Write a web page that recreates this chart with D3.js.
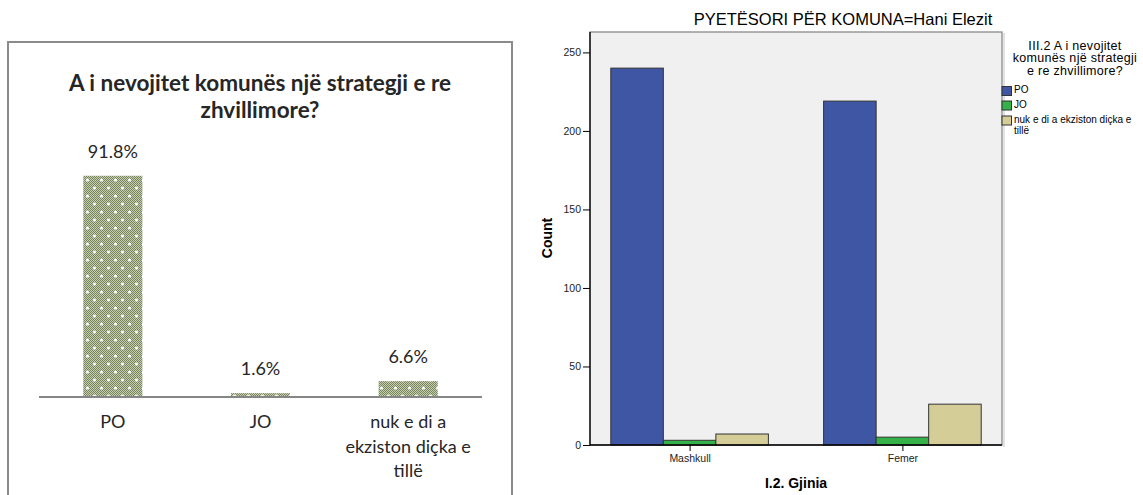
<!DOCTYPE html>
<html>
<head>
<meta charset="utf-8">
<title>A i nevojitet komunës një strategji e re zhvillimore?</title>
<script src="https://cdn.jsdelivr.net/npm/d3@7/dist/d3.min.js"></script>
<style>
body { margin: 0; background: #fff; }
svg { display: block; }
.calib { font-family: Lato, "Open Sans", sans-serif; fill: #262626; }
.spss { font-family: "Liberation Sans", Arial, sans-serif; fill: #000; }
</style>
</head>
<body>
<script>
  // left chart data (percent)
  var pctCategories = [["PO"], ["JO"], ["nuk e di a", "ekziston diçka e", "tillë"]];
  var pctValues = [91.8, 1.6, 6.6];

  // right chart data (counts by gender)
  var genders = ["Mashkull", "Femer"];
  var answers = ["PO", "JO", "nuk e di a ekziston diçka e tillë"];
  var countPO = [240, 219];
  var countJO = [3, 5];
  var countNuk = [7, 26];
  var countTicks = [0, 50, 100, 150, 200, 250];

  var W = 1143, H = 495;
  var svg = d3.select("body").append("svg").attr("width", W).attr("height", H);

  // ---------- patterns for left bars ----------
  var defs = svg.append("defs");
  var dith = defs.append("pattern").attr("id", "dith")
    .attr("patternUnits", "userSpaceOnUse").attr("width", 2).attr("height", 2);
  dith.append("rect").attr("width", 2).attr("height", 2).attr("fill", "#c6cdb3");
  dith.append("rect").attr("width", 1).attr("height", 1).attr("fill", "#76865a");
  dith.append("rect").attr("x", 1).attr("y", 1).attr("width", 1).attr("height", 1).attr("fill", "#76865a");

  var dots = defs.append("pattern").attr("id", "dots")
    .attr("patternUnits", "userSpaceOnUse").attr("width", 14).attr("height", 16);
  dots.append("rect").attr("width", 14).attr("height", 16).attr("fill", "url(#dith)");
  [[3.5, 4], [10.5, 12]].forEach(function(p) {
    dots.append("circle").attr("cx", p[0]).attr("cy", p[1]).attr("r", 1.5).attr("fill", "#fff");
  });

  // ---------- LEFT CHART ----------
  var left = svg.append("g");
  left.append("path")
    .attr("d", "M8," + (H + 5) + "V42H512V" + (H + 5))
    .attr("fill", "none").attr("stroke", "#8b8b8b").attr("stroke-width", 2);

  left.append("text").attr("class", "calib")
    .attr("x", 260).attr("text-anchor", "middle")
    .style("font-size", "22.5px").style("font-weight", "bold")
    .selectAll("tspan")
    .data(["A i nevojitet komunës një strategji e re", "zhvillimore?"])
    .enter().append("tspan")
    .attr("x", 260).attr("y", function(d, i) { return 83 + i * 27; })
    .attr("dy", "0.35em")
    .text(function(d) { return d; });

  var xL = d3.scaleBand()
    .domain(d3.range(pctValues.length))
    .range([39, 482])
    .paddingInner(0.6).paddingOuter(0.3);
  var yL = d3.scaleLinear().domain([0, 100]).range([397, 156]);

  left.selectAll(".pbar").data(pctValues).enter().append("rect")
    .attr("class", "pbar")
    .attr("x", function(d, i) { return xL(i); })
    .attr("y", function(d) { return yL(d); })
    .attr("width", xL.bandwidth())
    .attr("height", function(d) { return yL(0) - yL(d); })
    .attr("fill", "url(#dots)");

  left.append("line")
    .attr("x1", 39).attr("x2", 482).attr("y1", yL(0)).attr("y2", yL(0))
    .attr("stroke", "#868686").attr("stroke-width", 2);

  left.selectAll(".plab").data(pctValues).enter().append("text")
    .attr("class", "calib plab")
    .attr("x", function(d, i) { return xL(i) + xL.bandwidth() / 2; })
    .attr("y", function(d) { return yL(d) - 24; })
    .attr("dy", "0.35em").attr("text-anchor", "middle")
    .style("font-size", "18px")
    .text(function(d) { return d.toFixed(1) + "%"; });

  var catText = left.selectAll(".pcat").data(pctCategories).enter().append("text")
    .attr("class", "calib pcat")
    .attr("text-anchor", "middle")
    .style("font-size", "18px");
  catText.selectAll("tspan").data(function(d, i) { return d.map(function(t) { return { t: t, i: i }; }); })
    .enter().append("tspan")
    .attr("x", function(d) { return xL(d.i) + xL.bandwidth() / 2; })
    .attr("y", function(d, j) { return 422 + j * 24.5; })
    .attr("dy", "0.35em")
    .text(function(d) { return d.t; });

  // ---------- RIGHT CHART ----------
  var right = svg.append("g");
  var px0 = 590, px1 = 1002, py0 = 32, py1 = 445;

  right.append("text").attr("class", "spss")
    .attr("x", 843).attr("y", 19).attr("dy", "0.35em").attr("text-anchor", "middle")
    .style("font-size", "16.5px")
    .text("PYETËSORI PËR KOMUNA=Hani Elezit");

  right.append("rect")
    .attr("x", px0).attr("y", py0).attr("width", px1 - px0).attr("height", py1 - py0)
    .attr("fill", "#f0f0f0").attr("stroke", "#808080").attr("stroke-width", 1.2);
  right.append("line")
    .attr("x1", px1 + 2).attr("x2", px1 + 2).attr("y1", py0 + 1).attr("y2", py1 + 2)
    .attr("stroke", "#c4c4c4").attr("stroke-width", 1);

  var xG = d3.scalePoint().domain(genders).range([px0, px1]).padding(0.468);
  var xS = d3.scaleBand().domain(answers).range([-78.8, 78.8]);
  var yR = d3.scaleLinear().domain([0, 263]).range([py1, py0]);
  var colors = d3.scaleOrdinal().domain(answers).range(["#3e56a3", "#35b14a", "#d4cd98"]);

  var seriesVals = [countPO, countJO, countNuk];
  var rows = [];
  genders.forEach(function(g, gi) {
    answers.forEach(function(a, ai) {
      rows.push({ g: g, a: a, v: seriesVals[ai][gi] });
    });
  });

  right.selectAll(".cbar").data(rows).enter().append("rect")
    .attr("class", "cbar")
    .attr("x", function(d) { return xG(d.g) + xS(d.a); })
    .attr("y", function(d) { return yR(d.v); })
    .attr("width", xS.bandwidth())
    .attr("height", function(d) { return yR(0) - yR(d.v); })
    .attr("fill", function(d) { return colors(d.a); })
    .attr("stroke", "#333").attr("stroke-width", 1);

  var yAxis = right.append("g").attr("transform", "translate(" + px0 + ",0)")
    .call(d3.axisLeft(yR).tickValues(countTicks).tickSize(7).tickPadding(2));
  yAxis.select(".domain").attr("d", "M0," + py0 + "V" + py1).attr("stroke", "#000").attr("stroke-width", 1.3);
  yAxis.selectAll("text").style("font-size", "10.5px").style("font-family", "Liberation Sans, Arial, sans-serif").attr("fill", "#222");

  var xAxis = right.append("g").attr("transform", "translate(0," + py1 + ")")
    .call(d3.axisBottom(xG).tickSize(6).tickPadding(4));
  xAxis.select(".domain").attr("d", "M" + px0 + ",0H" + px1).attr("stroke", "#000").attr("stroke-width", 1.3);
  xAxis.selectAll("text").style("font-size", "10.5px").style("font-family", "Liberation Sans, Arial, sans-serif").attr("fill", "#222");

  right.append("text").attr("class", "spss")
    .attr("transform", "translate(547,238) rotate(-90)")
    .attr("dy", "0.35em").attr("text-anchor", "middle")
    .style("font-size", "14px").style("font-weight", "bold")
    .text("Count");

  right.append("text").attr("class", "spss")
    .attr("x", 796).attr("y", 483).attr("dy", "0.35em").attr("text-anchor", "middle")
    .style("font-size", "14px").style("font-weight", "bold")
    .text("I.2. Gjinia");

  // legend
  var leg = right.append("g");
  leg.append("text").attr("class", "spss").attr("text-anchor", "middle")
    .style("font-size", "12.5px").style("letter-spacing", "0.3px").attr("fill", "#222")
    .selectAll("tspan")
    .data(["III.2 A i nevojitet", "komunës një strategji", "e re zhvillimore?"])
    .enter().append("tspan")
    .attr("x", 1075).attr("y", function(d, i) { return 45.5 + i * 12.5; })
    .attr("dy", "0.35em")
    .text(function(d) { return d; });

  var legY = [91, 105.5, 120.5];
  var legLines = [["PO"], ["JO"], ["nuk e di a ekziston diçka e", "tillë"]];
  answers.forEach(function(a, i) {
    leg.append("rect")
      .attr("x", 1002).attr("y", legY[i] - 4.5).attr("width", 9.5).attr("height", 9)
      .attr("fill", colors(a)).attr("stroke", "#333").attr("stroke-width", 1);
    leg.append("text").attr("class", "spss")
      .style("font-size", "10px").attr("fill", "#222")
      .selectAll("tspan").data(legLines[i]).enter().append("tspan")
      .attr("x", 1014).attr("y", function(t, j) { return legY[i] - 1.5 + j * 11.5; })
      .attr("dy", "0.35em")
      .text(function(t) { return t; });
  });
</script>
</body>
</html>
